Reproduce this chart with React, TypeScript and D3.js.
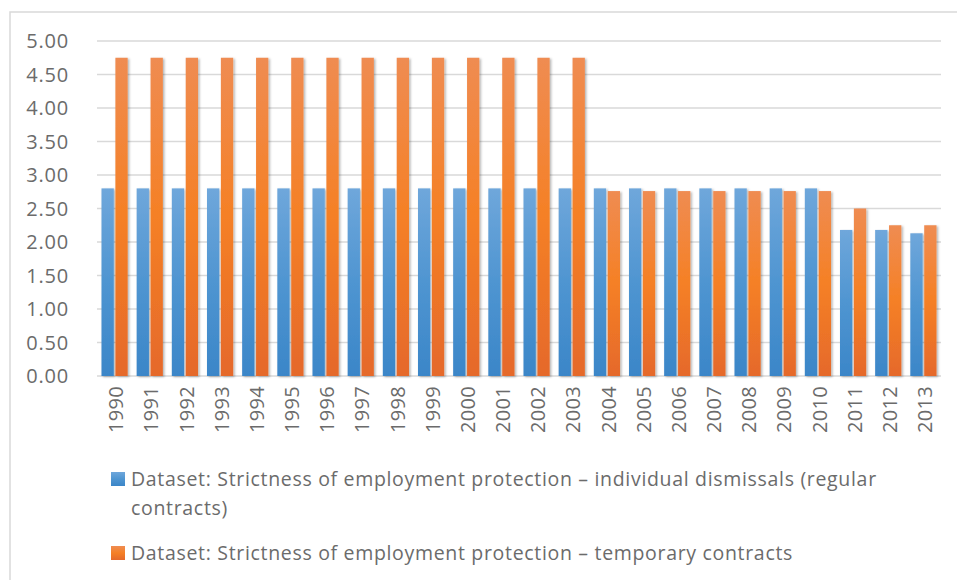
import React from "react";
import * as d3 from "d3";

const years = ["1990","1991","1992","1993","1994","1995","1996","1997","1998","1999","2000","2001","2002","2003","2004","2005","2006","2007","2008","2009","2010","2011","2012","2013"];
const regular = [2.8,2.8,2.8,2.8,2.8,2.8,2.8,2.8,2.8,2.8,2.8,2.8,2.8,2.8,2.8,2.8,2.8,2.8,2.8,2.8,2.8,2.18,2.18,2.13];
const temporary = [4.75,4.75,4.75,4.75,4.75,4.75,4.75,4.75,4.75,4.75,4.75,4.75,4.75,4.75,2.76,2.76,2.76,2.76,2.76,2.76,2.76,2.5,2.25,2.25];
const yTicks = [0,0.5,1,1.5,2,2.5,3,3.5,4,4.5,5];
const legendLines = [
  ["Dataset: Strictness of employment protection – individual dismissals (regular", "contracts)"],
  ["Dataset: Strictness of employment protection – temporary contracts"],
];

const W = 957, H = 580;
const left = 97, right = 941, top = 41, bottom = 376;
const font = "'Open Sans', sans-serif";
const textColor = "#6b6b6b";

export default function App() {
  const x = d3.scaleBand<string>().domain(years).range([left, right]).paddingInner(0).paddingOuter(0);
  const y = d3.scaleLinear().domain([0, 5]).range([bottom, top]);
  const bw = 12.3, gap = 1.6;
  const series = [
    { values: regular, grad: "gBlue" },
    { values: temporary, grad: "gOrange" },
  ];
  return (
    <svg width={W} height={H} style={{ position: "absolute", left: 0, top: 0, background: "#fff" }}>
      <defs>
        <linearGradient id="gBlue" x1="0" y1="0" x2="0" y2="1">
          <stop offset="0" stopColor="#6fa7db" />
          <stop offset="0.5" stopColor="#4f95d1" />
          <stop offset="1" stopColor="#3b86c8" />
        </linearGradient>
        <linearGradient id="gOrange" x1="0" y1="0" x2="0" y2="1">
          <stop offset="0" stopColor="#ef8c52" />
          <stop offset="0.5" stopColor="#f58025" />
          <stop offset="1" stopColor="#e5692b" />
        </linearGradient>
        <filter id="shadow" x="-30%" y="-5%" width="160%" height="110%">
          <feDropShadow dx="1.5" dy="1" stdDeviation="1.2" floodColor="#000" floodOpacity="0.3" />
        </filter>
      </defs>
      <rect x={10} y={12} width={W} height={H} fill="#fff" stroke="#d9d9d9" strokeWidth={1.5} />
      {yTicks.map((t) => (
        <g key={t}>
          <line x1={left} x2={right} y1={y(t)} y2={y(t)} stroke="#d9d9d9" strokeWidth={1.5} />
          <text x={69} y={y(t)} dy="0.36em" textAnchor="end" fontFamily={font} fontSize={20} letterSpacing={0.8} fill={textColor}>
            {t.toFixed(2)}
          </text>
        </g>
      ))}
      <g filter="url(#shadow)">
        {years.map((yr, i) => {
          const c = (x(yr) as number) + x.bandwidth() / 2;
          return series.map((s, j) => {
            const x0 = j === 0 ? c - gap / 2 - bw : c + gap / 2;
            return (
              <rect key={yr + j} x={x0} y={y(s.values[i])} width={bw} height={bottom - y(s.values[i])} fill={`url(#${s.grad})`} />
            );
          });
        })}
      </g>
      {years.map((yr) => {
        const c = (x(yr) as number) + x.bandwidth() / 2;
        return (
          <text key={yr} transform={`translate(${c + 1.5},386) rotate(-90)`} dy="0.36em" textAnchor="end" fontFamily={font} fontSize={20} letterSpacing={0.3} fill={textColor}>
            {yr}
          </text>
        );
      })}
      <rect x={111} y={472} width={14} height={14} fill="url(#gBlue)" />
      <text x={131} y={486} fontFamily={font} fontSize={19.5} letterSpacing={0.68} fill={textColor}>{legendLines[0][0]}</text>
      <text x={131} y={515} fontFamily={font} fontSize={19.5} letterSpacing={0.68} fill={textColor}>{legendLines[0][1]}</text>
      <rect x={111} y={546} width={14} height={14} fill="url(#gOrange)" />
      <text x={131} y={560} fontFamily={font} fontSize={19.5} letterSpacing={0.68} fill={textColor}>{legendLines[1][0]}</text>
    </svg>
  );
}
